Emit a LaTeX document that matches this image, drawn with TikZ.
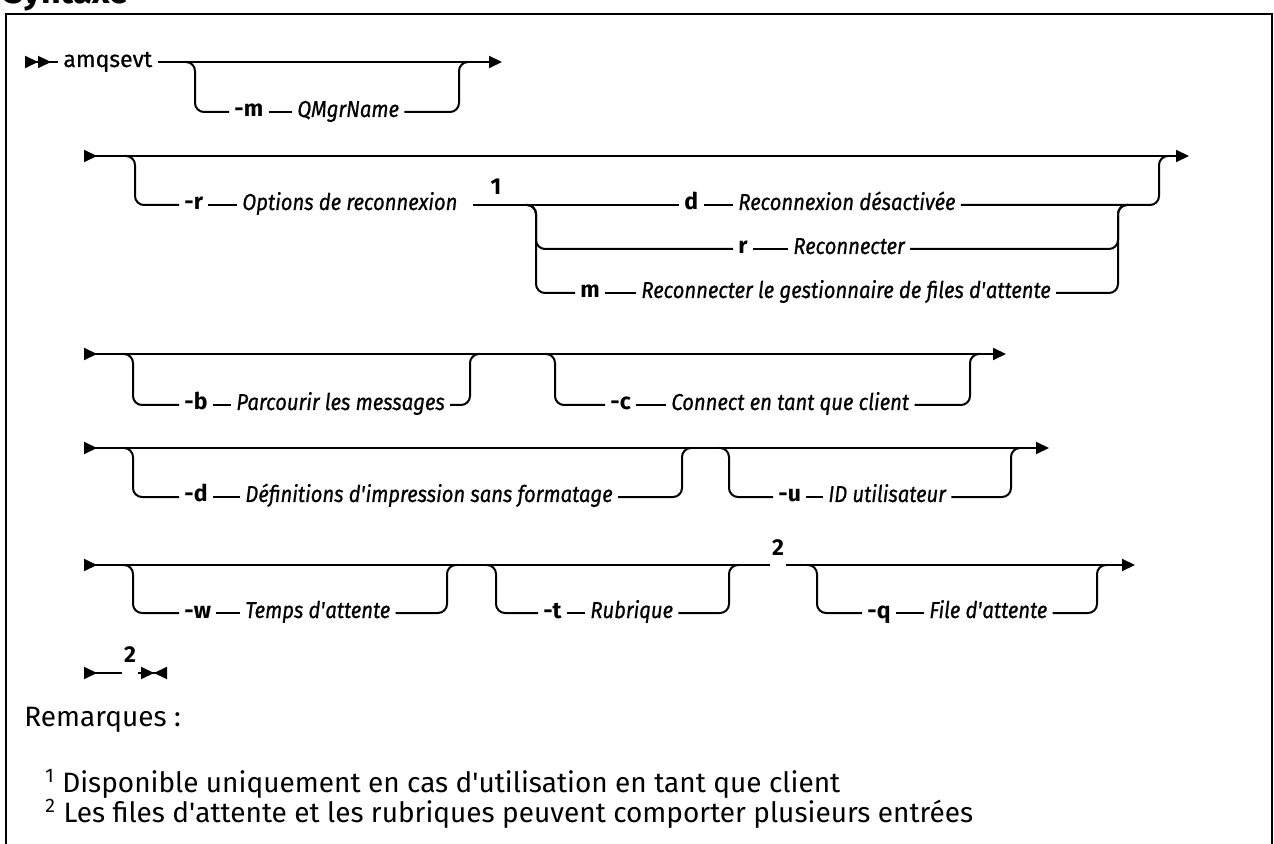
\documentclass[tikz,border=0pt]{standalone}
\usepackage{fontspec}
\setmainfont{Fira Sans}
\newfontfamily\railfont{Fira Sans}[UprightFeatures={FakeBold=0.7},
    ItalicFeatures={FakeStretch=0.88,FakeBold=0.7},BoldItalicFeatures={FakeStretch=0.88}]
\newcommand{\apo}{\textquotesingle}
\usetikzlibrary{arrows.meta,positioning}

\begin{document}
\begin{tikzpicture}
        [x=0.5pt,y=-0.5pt,>={Triangle[length=6.5pt,width=6pt]},
         rail/.style={line width=1pt,rounded corners=4.5pt},
         kw/.style={font=\railfont\bfseries\fontsize{11.5}{13}\selectfont,anchor=west,inner xsep=2.5pt,inner ysep=0pt,text height=7.5pt,text depth=2.5pt},
         var/.style={kw,font=\railfont\itshape\fontsize{11.5}{13}\selectfont},
         fnum/.style={font=\railfont\bfseries\fontsize{11.5}{13}\selectfont,inner sep=1pt},
         fgap/.style={fnum,fill=white,anchor=base,text depth=5pt,inner ysep=2pt},
         note/.style={font=\fontsize{14}{16}\selectfont,anchor=west,inner sep=0pt}]

        \useasboundingbox (0,0) rectangle (1274,844);
        \clip (0,0) rectangle (1274,844);

        \node[font=\fontsize{17}{20}\selectfont\bfseries,anchor=base west,inner sep=0pt] (title) at (4,4) {Syntaxe};
        \draw[line width=1pt] (6,850) -- (6,14) -- (1272,14) -- (1272,850);

        % amqsevt -m
        \begin{scope}[shift={(0,62)}]
            \coordinate (s1) at (25,0);
            \coordinate (e1) at (502,0);
            \coordinate (r1a) at (195,0);
            \coordinate (r1b) at (459,0);
            \node[kw,font=\railfont\fontsize{11.5}{13}\selectfont] (amq) at (58,0) {amqsevt};
            \node[kw] (mk) at (229,50) {-m};
            \node[var] (qm) at (292,50) {QMgrName};
            \draw[rail,>>-] (s1) -- (amq);
            \draw[rail,->] (amq) -- (e1);
            \draw[rail] ([xshift=-5pt]r1a) -- (r1a) |- (mk.west);
            \draw[rail] (mk) -- (qm);
            \draw[rail] (qm.east) -| (r1b) -- ([xshift=5pt]r1b);
        \end{scope}

        % -r
        \begin{scope}[shift={(0,156)}]
            \coordinate (s2) at (84,0);
            \coordinate (e2) at (1189,0);
            \coordinate (r2a) at (135,0);
            \coordinate (r2b) at (1159,0);
            \coordinate (r2c) at (536,49);
            \coordinate (r2d) at (1118,49);
            \node[kw] (rk) at (179,49) {-r};
            \node[var] (opt) at (237,49) {Options de reconnexion};
            \node[fnum] (fn1) at (496,31) {1};
            \node[kw] (dk) at (679,49) {d};
            \node[var] (rd) at (733,49) {Reconnexion désactivée};
            \node[kw] (rr) at (733,93) {r};
            \node[var] (rec) at (788,93) {Reconnecter};
            \node[kw] (mm) at (575,137) {m};
            \node[var] (rgf) at (636,137) {Reconnecter le gestionnaire de files d\apo attente};
            \draw[rail,>->] (s2) -- (e2);
            \draw[rail] ([xshift=-5pt]r2a) -- (r2a) |- (rk.west);
            \draw[rail] (rk) -- (opt);
            \draw[rail,shorten <=5pt] (opt) -- (dk);
            \draw[rail] (dk) -- (rd);
            \draw[rail] (rd.east) -| (r2b) -- ([xshift=5pt]r2b);
            \draw[rail] ([xshift=-5pt]r2c) -- (r2c) |- (rr.west);
            \draw[rail] ([xshift=-5pt]r2c) -- (r2c) |- (mm.west);
            \draw[rail] (rr) -- (rec);
            \draw[rail] (mm) -- (rgf);
            \draw[rail] (rec.east) -| (r2d) -- ([xshift=5pt]r2d);
            \draw[rail] (rgf.east) -| (r2d) -- ([xshift=5pt]r2d);
        \end{scope}

        % -b -c
        \begin{scope}[shift={(0,354)}]
            \coordinate (s3) at (84,0);
            \coordinate (e3) at (1006,0);
            \coordinate (r3a) at (133,0);
            \coordinate (r3b) at (470,0);
            \coordinate (r3c) at (555,0);
            \coordinate (r3d) at (970,0);
            \node[kw] (bk) at (179,51) {-b};
            \node[var] (pm) at (231,51) {Parcourir les messages};
            \node[kw] (ck) at (605,51) {-c};
            \node[var] (cc) at (666,51) {Connect en tant que client};
            \draw[rail,>->] (s3) -- (e3);
            \draw[rail] ([xshift=-5pt]r3a) -- (r3a) |- (bk.west);
            \draw[rail] (bk) -- (pm);
            \draw[rail] (pm.east) -| (r3b) -- ([xshift=5pt]r3b);
            \draw[rail] ([xshift=-5pt]r3c) -- (r3c) |- (ck.west);
            \draw[rail] (ck) -- (cc);
            \draw[rail] (cc.east) -| (r3d) -- ([xshift=5pt]r3d);
        \end{scope}

        % -d -u
        \begin{scope}[shift={(0,448)}]
            \coordinate (s4) at (84,0);
            \coordinate (e4) at (1049,0);
            \coordinate (r4a) at (133,0);
            \coordinate (r4b) at (682,0);
            \coordinate (r4c) at (729,0);
            \coordinate (r4d) at (1011,0);
            \node[kw] (dk2) at (179,49) {-d};
            \node[var] (dif) at (240,49) {Définitions d\apo impression sans formatage};
            \node[kw] (uk) at (773,49) {-u};
            \node[var] (idu) at (823,49) {ID utilisateur};
            \draw[rail,>->] (s4) -- (e4);
            \draw[rail] ([xshift=-5pt]r4a) -- (r4a) |- (dk2.west);
            \draw[rail] (dk2) -- (dif);
            \draw[rail] (dif.east) -| (r4b) -- ([xshift=5pt]r4b);
            \draw[rail] ([xshift=-5pt]r4c) -- (r4c) |- (uk.west);
            \draw[rail] (uk) -- (idu);
            \draw[rail] (idu.east) -| (r4d) -- ([xshift=5pt]r4d);
        \end{scope}

        % -w -t -q
        \begin{scope}[shift={(0,565)}]
            \coordinate (s5) at (84,0);
            \coordinate (e5) at (1135,0);
            \coordinate (r5a) at (133,0);
            \coordinate (r5b) at (447,0);
            \coordinate (r5c) at (496,0);
            \coordinate (r5d) at (729,0);
            \coordinate (r5e) at (817,0);
            \coordinate (r5f) at (1097,0);
            \node[kw] (wk) at (179,48) {-w};
            \node[var] (tps) at (240,48) {Temps d\apo attente};
            \node[kw] (tk) at (538,48) {-t};
            \node[var] (rub) at (585,48) {Rubrique};
            \node[kw] (qk) at (862,48) {-q};
            \node[var] (fda) at (924,48) {File d\apo attente};
            \draw[rail,>->] (s5) -- (e5);
            \node[fgap] (fn2) at (778,-10) {2};
            \draw[rail] ([xshift=-5pt]r5a) -- (r5a) |- (wk.west);
            \draw[rail] (wk) -- (tps);
            \draw[rail] (tps.east) -| (r5b) -- ([xshift=5pt]r5b);
            \draw[rail] ([xshift=-5pt]r5c) -- (r5c) |- (tk.west);
            \draw[rail] (tk) -- (rub);
            \draw[rail] (rub.east) -| (r5d) -- ([xshift=5pt]r5d);
            \draw[rail] ([xshift=-5pt]r5e) -- (r5e) |- (qk.west);
            \draw[rail] (qk) -- (fda);
            \draw[rail] (fda.east) -| (r5f) -- ([xshift=5pt]r5f);
        \end{scope}

        % end
        \coordinate (s6) at (84,673);
        \coordinate (e6) at (167,673);
        \draw[rail,{>}-{><}] (s6) -- (e6);
        \node[fgap] (fn3) at (130,662) {2};

        \node[note] (rem) at (24,720) {Remarques :};
        \node[note] (nt1) at (45,784) {\textsuperscript{1} Disponible uniquement en cas d\apo utilisation en tant que client};
        \node[note] (nt2) at (45,814) {\textsuperscript{2} Les files d\apo attente et les rubriques peuvent comporter plusieurs entrées};

    \end{tikzpicture}
\end{document}
